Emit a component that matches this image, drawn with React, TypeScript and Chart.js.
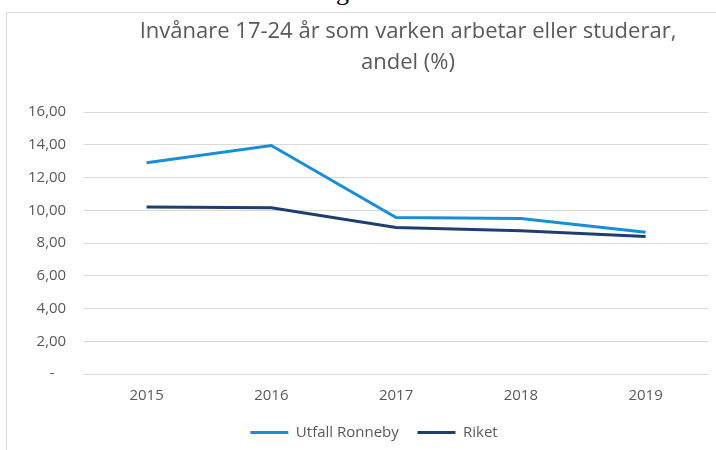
import React, { useEffect, useRef } from "react";
import { Chart, registerables } from "chart.js";

Chart.register(...registerables);

const years = ["2015", "2016", "2017", "2018", "2019"];
const ronneby = [12.9, 13.95, 9.55, 9.5, 8.65];
const riket = [10.2, 10.15, 8.95, 8.75, 8.4];
const seriesNames = ["Utfall Ronneby", "Riket"];
const seriesColors = ["#1a8dd5", "#1f3e70"];
const titleLines = ["Invånare 17-24 år som varken arbetar eller studerar,", "andel (%)"];
const yMin = 0;
const yMax = 16;
const yStep = 2;

const textColor = "#595959";
const fontFamily = "'Open Sans', 'Noto Sans', sans-serif";

const legendShift = {
  id: "legendShift",
  afterLayout(c: any) {
    if (c.legend) {
      c.legend.left += 15;
      c.legend.right += 15;
    }
  },
};

export default function App() {
  const canvasRef = useRef<HTMLCanvasElement | null>(null);

  useEffect(() => {
    const canvas = canvasRef.current;
    if (!canvas) return;
    const chart = new Chart(canvas, {
      type: "line",
      data: {
        labels: years,
        datasets: [
          {
            label: seriesNames[0],
            data: ronneby,
            borderColor: seriesColors[0],
            backgroundColor: seriesColors[0],
            borderWidth: 3,
            pointRadius: 0,
            tension: 0,
          },
          {
            label: seriesNames[1],
            data: riket,
            borderColor: seriesColors[1],
            backgroundColor: seriesColors[1],
            borderWidth: 3,
            pointRadius: 0,
            tension: 0,
          },
        ],
      },
      options: {
        responsive: false,
        animation: false,
        layout: { padding: { left: 10, right: 8, top: 112, bottom: 0 } },
        scales: {
          x: {
            offset: true,
            grid: { display: false, drawTicks: false, offset: true },
            border: { display: false },
            ticks: { color: textColor, font: { family: fontFamily, size: 15 }, padding: 13 },
          },
          y: {
            min: yMin,
            max: yMax,
            grid: { color: "#d9d9d9", lineWidth: 1, drawTicks: false },
            border: { display: false },
            ticks: {
              stepSize: yStep,
              color: textColor,
              font: { family: fontFamily, size: 15 },
              padding: 18,
              callback: (v: any) => (Number(v) === 0 ? "-   " : Number(v).toFixed(2).replace(".", ",")),
            },
          },
        },
        plugins: {
          title: { display: false },
          tooltip: { enabled: false },
          legend: {
            position: "bottom",
            labels: {
              boxWidth: 38,
              boxHeight: 3,
              padding: 7,
              color: textColor,
              font: { family: fontFamily, size: 15 },
              generateLabels: (c: any) => {
                const items = Chart.defaults.plugins.legend.labels.generateLabels(c);
                return items.map((l: any, i: number) => ({
                  ...l,
                  text: i < items.length - 1 ? l.text + "   " : l.text,
                  lineWidth: 0,
                  fillStyle: l.strokeStyle,
                }));
              },
            },
          },
        },
      },
      plugins: [legendShift],
    });
    return () => chart.destroy();
  }, []);

  return (
    <div
      style={{
        position: "absolute",
        left: 0,
        top: 0,
        width: 716,
        height: 450,
        overflow: "hidden",
        background: "#ffffff",
      }}
    >
      <div
        style={{
          position: "absolute",
          left: 336,
          top: -21,
          fontFamily: "'Liberation Serif', serif",
          fontSize: 26,
          lineHeight: "26px",
          color: "#000",
        }}
      >
        g
      </div>
      <div
        style={{
          position: "absolute",
          left: 6,
          top: 12,
          width: 720,
          height: 460,
          border: "1px solid #d9d9d9",
          boxSizing: "border-box",
        }}
      />
      <canvas
        ref={canvasRef}
        width={716}
        height={450}
        style={{ position: "absolute", left: 0, top: 0, width: 716, height: 450 }}
      />
      <div
        style={{
          position: "absolute",
          left: 108,
          top: 14,
          width: 600,
          textAlign: "center",
          fontFamily: fontFamily,
          fontSize: 22,
          lineHeight: "31px",
          color: textColor,
          whiteSpace: "nowrap",
        }}
      >
        <div>{titleLines[0]}</div>
        <div>{titleLines[1]}</div>
      </div>
    </div>
  );
}
